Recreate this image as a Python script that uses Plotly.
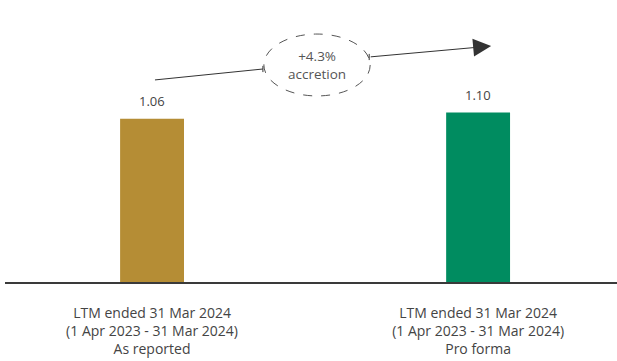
import plotly.graph_objects as go

categories = ["LTM ended 31 Mar 2024<br>(1 Apr 2023 - 31 Mar 2024)<br>As reported",
              "LTM ended 31 Mar 2024<br>(1 Apr 2023 - 31 Mar 2024)<br>Pro forma"]
values = [1.06, 1.10]
value_labels = ["1.06", "1.10"]
bar_colors = ["#B58D35", "#008C60"]
accretion_text = "+4.3%<br>accretion"

FONT = "Open Sans"
x_pos = list(range(len(categories)))

fig = go.Figure()
fig.add_trace(go.Bar(
    x=x_pos, y=values, width=0.196,
    marker=dict(color=bar_colors, line=dict(width=0)),
    hoverinfo="skip",
))

for xi, v, lab in zip(x_pos, values, value_labels):
    fig.add_annotation(x=xi, y=v, text=lab, showarrow=False, xref="x", yref="y",
                       yanchor="bottom", yshift=7,
                       font=dict(family=FONT, size=13, color="#444444"))

# accretion ellipse
cx, cy, rx, ry = 0.506, 1.409, 0.163, 0.201
fig.add_shape(type="circle", xref="x", yref="y",
              x0=cx - rx, x1=cx + rx, y0=cy - ry, y1=cy + ry,
              line=dict(color="#555555", width=1, dash="dash"))
fig.add_annotation(x=cx, y=cy, text=accretion_text, showarrow=False, xref="x", yref="y",
                   font=dict(family=FONT, size=13.5, color="#555555"))

# arrow left segment
fig.add_shape(type="line", xref="x", yref="y", x0=0.009, y0=1.312, x1=0.340, y1=1.383,
              line=dict(color="#333333", width=1))
fig.add_shape(type="line", xref="x", yref="y", x0=0.340, y0=1.363, x1=0.340, y1=1.403,
              line=dict(color="#333333", width=1))
# arrow right segment
fig.add_shape(type="line", xref="x", yref="y", x0=0.666, y0=1.441, x1=0.666, y1=1.481,
              line=dict(color="#333333", width=1))
fig.add_annotation(x=1.040, y=1.532, ax=0.666, ay=1.461, xref="x", yref="y",
                   axref="x", ayref="y", text="", showarrow=True,
                   arrowhead=2, arrowsize=3.6, arrowwidth=1, arrowcolor="#333333")

fig.update_layout(
    width=617, height=361,
    margin=dict(l=5, r=0, t=0, b=79),
    plot_bgcolor="white", paper_bgcolor="white",
    showlegend=False,
    xaxis=dict(range=[-0.451, 1.426], tickvals=x_pos, ticktext=categories,
               showgrid=False, zeroline=False, showline=True,
               linecolor="#3a3a3a", linewidth=1.5,
               ticks="outside", ticklen=17, tickcolor="rgba(0,0,0,0)",
               tickfont=dict(family=FONT, size=14, color="#444444")),
    yaxis=dict(range=[0, 1.831], visible=False, showgrid=False, zeroline=False),
)

fig.write_html("out.html")
